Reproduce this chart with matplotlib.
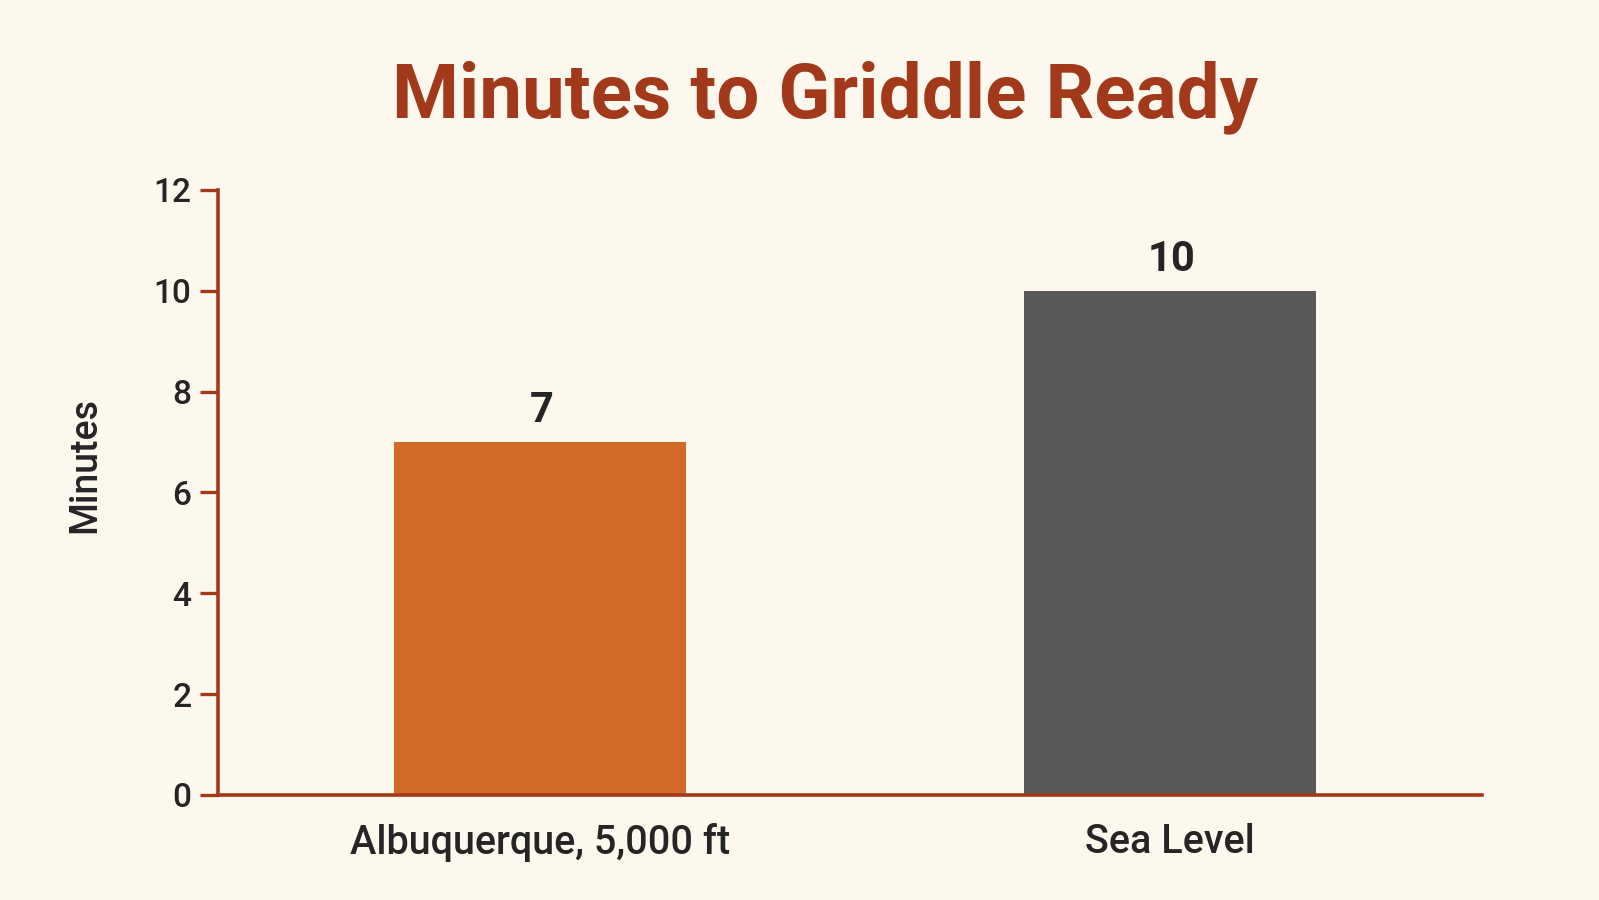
import matplotlib
matplotlib.use("Agg")
import matplotlib.pyplot as plt

plt.rcParams['font.family'] = ['Roboto', 'DejaVu Sans']

categories = ["Albuquerque, 5,000 ft", "Sea Level"]
values = [7, 10]
bar_colors = ["#D06A26", "#595959"]
yticks = [0, 2, 4, 6, 8, 10, 12]
title = "Minutes to Griddle Ready"
ylabel = "Minutes"

bg = "#FCF8EE"
rust = "#A3391B"
dark = "#252525"

fig = plt.figure(figsize=(15.99, 9.0), dpi=100, facecolor=bg)
ax = fig.add_axes([0.1363, 0.1167, 0.7905, 0.6722], facecolor=bg)

x = list(range(len(categories)))
bars = ax.bar(x, values, width=0.464, color=bar_colors, zorder=2)
for xi, v in zip(x, values):
    ax.annotate(str(v), (xi, v), xytext=(1, 8), textcoords="offset points",
                ha="center", va="bottom", fontsize=30, fontweight="bold", color=dark)

ax.set_xlim(-0.511, 1.495)
ax.set_ylim(0, 12)
ax.set_yticks(yticks)
ax.set_xticks(x)
ax.set_xticklabels(categories, fontsize=28.5, color=dark, fontweight=500)
ax.tick_params(axis='x', length=0, pad=20)
ax.tick_params(axis='y', length=13, width=2.4, color=rust, labelsize=24, labelcolor=dark, pad=6)
for lab in ax.get_yticklabels():
    lab.set_fontweight(500)

for s in ["top", "right"]:
    ax.spines[s].set_visible(False)
for s in ["left", "bottom"]:
    ax.spines[s].set_color(rust)
    ax.spines[s].set_linewidth(2.6)
ax.spines["bottom"].set_zorder(3)

ax.set_ylabel(ylabel, fontsize=27, color=dark, fontweight=500)
ax.yaxis.set_label_coords(-0.091, 0.545)

fig.text(0.516, 0.892, title, ha="center", va="center", fontsize=55,
         fontweight="bold", color="#A3391B")

fig.savefig("out.png", dpi=100, facecolor=bg)
